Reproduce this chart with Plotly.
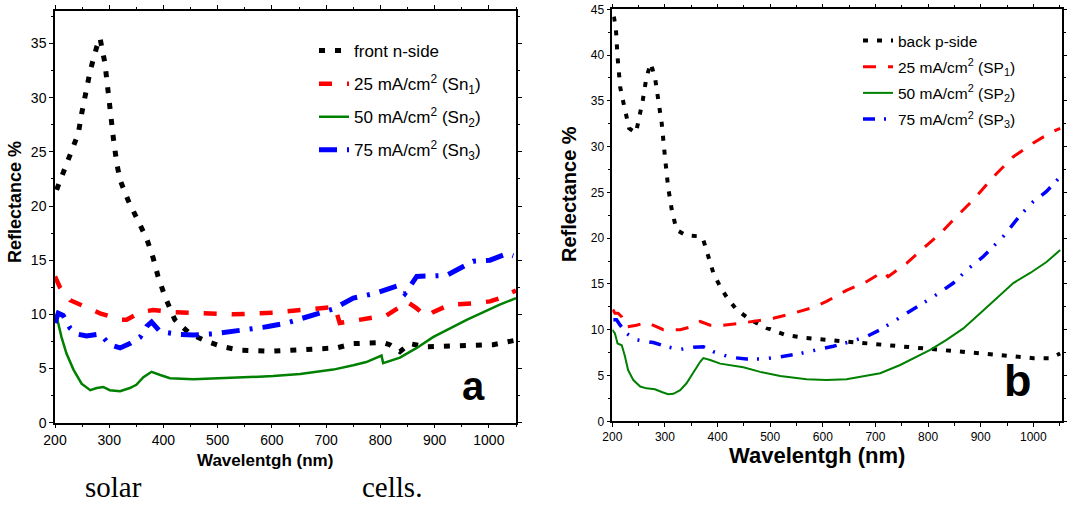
import plotly.graph_objects as go

# ---------------- Panel a data (front n-side) ----------------
a_black_x = [203, 215, 228, 243, 249, 257, 265, 277, 283, 292, 298, 308, 314, 320, 335, 350, 369, 381, 390, 403, 421, 449, 480, 510, 541, 599, 658, 719, 750, 805, 817, 836, 854, 885, 946, 1008, 1048]
a_black_y = [21.5, 23.0, 24.9, 26.7, 28.5, 30.4, 32.5, 34.7, 35.5, 33.2, 30.1, 26.1, 23.9, 22.4, 20.5, 19.0, 17.0, 15.2, 13.5, 11.6, 9.5, 8.2, 7.5, 7.0, 6.7, 6.6, 6.7, 6.9, 7.3, 7.4, 7.2, 6.55, 7.3, 7.0, 7.1, 7.2, 7.6]

a_red_x = [200, 209, 228, 258, 283, 320, 332, 357, 381, 418, 467, 529, 602, 652, 701, 716, 725, 781, 811, 836, 848, 867, 885, 897, 928, 971, 1002, 1020, 1050]
a_red_y = [13.5, 12.5, 11.3, 10.7, 10.1, 9.5, 9.5, 10.2, 10.4, 10.2, 10.1, 10.0, 10.15, 10.4, 10.6, 10.7, 9.2, 9.6, 9.9, 10.7, 11.2, 10.55, 9.8, 10.2, 10.9, 11.0, 11.2, 11.5, 12.2]

a_green_x = [203, 212, 221, 234, 249, 265, 277, 289, 301, 320, 338, 350, 363, 378, 394, 412, 455, 529, 602, 652, 713, 750, 774, 802, 805, 836, 867, 897, 928, 959, 990, 1020, 1050]
a_green_y = [9.8, 7.9, 6.4, 4.9, 3.6, 3.0, 3.2, 3.3, 3.0, 2.9, 3.2, 3.5, 4.2, 4.7, 4.4, 4.1, 4.0, 4.15, 4.3, 4.5, 4.9, 5.3, 5.6, 6.2, 5.5, 6.0, 6.9, 7.9, 8.7, 9.5, 10.2, 10.9, 11.5]

a_blue_x = [200, 206, 215, 228, 240, 258, 283, 301, 320, 338, 357, 369, 378, 394, 430, 455, 492, 541, 590, 627, 676, 713, 750, 787, 830, 845, 867, 897, 922, 971, 1002, 1033, 1045]
a_blue_y = [9.2, 10.1, 9.9, 8.7, 8.2, 8.0, 8.2, 7.2, 6.9, 7.3, 7.9, 8.9, 9.3, 8.4, 8.15, 8.1, 8.2, 8.5, 8.85, 9.2, 10.0, 10.5, 11.5, 11.9, 12.6, 11.9, 13.5, 13.6, 13.6, 14.9, 15.0, 15.6, 15.4]

# ---------------- Panel b data (back p-side) ----------------
b_black_x = [203, 207, 210, 215, 220, 226, 232, 245, 251, 258, 265, 273, 281, 287, 294, 300, 306, 313, 322, 341, 367, 373, 382, 392, 405, 417, 436, 462, 493, 531, 569, 607, 645, 696, 747, 791, 835, 886, 949, 1000, 1032, 1051]
b_black_y = [44.2, 42.7, 39.8, 36.5, 35.1, 33.6, 32.0, 31.5, 33.1, 35.1, 37.6, 39.1, 37.6, 35.5, 32.5, 28.9, 25.6, 23.1, 20.9, 20.3, 20.2, 19.8, 18.0, 16.2, 14.7, 13.6, 12.2, 11.1, 10.2, 9.4, 9.1, 8.9, 8.7, 8.45, 8.15, 8.0, 7.7, 7.4, 7.1, 6.9, 6.9, 7.4]

b_red_x = [201, 205, 211, 218, 227, 246, 265, 278, 297, 310, 329, 348, 367, 386, 411, 443, 481, 506, 544, 582, 607, 645, 683, 715, 724, 759, 791, 823, 848, 886, 924, 962, 1000, 1032, 1051]
b_red_y = [12.2, 11.8, 11.8, 11.4, 10.3, 10.5, 10.8, 10.5, 10.0, 10.0, 10.0, 10.3, 10.9, 10.5, 10.5, 10.7, 11.0, 11.25, 11.8, 12.45, 13.1, 14.3, 15.25, 16.35, 15.8, 17.25, 18.9, 20.5, 22.0, 24.2, 26.7, 28.9, 30.4, 31.5, 32.0]

b_green_x = [200, 205, 210, 218, 224, 230, 240, 253, 265, 281, 294, 306, 316, 329, 341, 354, 367, 373, 386, 405, 424, 449, 481, 519, 569, 607, 645, 677, 690, 709, 747, 785, 804, 835, 867, 899, 937, 962, 994, 1025, 1051]
b_green_y = [10.0, 9.6, 8.5, 8.3, 7.1, 5.6, 4.5, 3.8, 3.6, 3.5, 3.2, 2.95, 3.0, 3.4, 4.15, 5.4, 6.5, 6.9, 6.7, 6.3, 6.15, 5.9, 5.4, 4.95, 4.6, 4.5, 4.6, 4.9, 5.1, 5.25, 6.15, 7.25, 7.8, 8.9, 10.15, 11.8, 13.8, 15.1, 16.2, 17.4, 18.7]

b_blue_x = [202, 208, 215, 227, 246, 265, 278, 303, 329, 354, 373, 392, 424, 455, 487, 519, 557, 588, 620, 652, 683, 709, 734, 759, 785, 810, 848, 873, 905, 943, 975, 1000, 1025, 1051]
b_blue_y = [11.1, 11.1, 10.5, 9.6, 8.9, 8.7, 8.6, 8.15, 7.85, 8.1, 8.15, 7.6, 7.0, 6.8, 6.8, 7.05, 7.4, 7.8, 8.2, 8.7, 9.25, 10.0, 10.9, 11.8, 12.7, 13.6, 15.1, 16.5, 18.0, 20.2, 22.5, 24.0, 25.1, 26.7]

a_names = ["front n-side", "25 mA/cm<sup>2</sup> (Sn<sub>1</sub>)",
           "50 mA/cm<sup>2</sup> (Sn<sub>2</sub>)", "75 mA/cm<sup>2</sup> (Sn<sub>3</sub>)"]
b_names = ["back p-side", "25 mA/cm<sup>2</sup> (SP<sub>1</sub>)",
           "50 mA/cm<sup>2</sup> (SP<sub>2</sub>)", "75 mA/cm<sup>2</sup> (SP<sub>3</sub>)"]

x_ticks = [200, 300, 400, 500, 600, 700, 800, 900, 1000]

W, H = 1086, 506
def px(x):
    return x / W
def py(y):
    return 1 - y / H

SANS = "Liberation Sans, Arial"

fig = go.Figure()

a_styles = [("black", 5, "6px,10px"), ("#ff0000", 4.5, "13px,15px"),
            ("#008000", 2.5, "solid"), ("#0000ff", 5, "18px,10px,3px,10px")]
b_styles = [("black", 4, "5px,9px"), ("#ff0000", 3, "13px,12px"),
            ("#008000", 2, "solid"), ("#0000ff", 3.5, "12px,9px,2px,10px,2px,10px")]

for i, ((xs, ys), name, (c, w, d)) in enumerate(zip(
        [(a_black_x, a_black_y), (a_red_x, a_red_y), (a_green_x, a_green_y), (a_blue_x, a_blue_y)],
        a_names, a_styles)):
    fig.add_trace(go.Scatter(x=xs, y=ys, name=name, mode="lines",
                             line=dict(color=c, width=w, dash=d), legendgroup=f"a{i}",
                             xaxis="x", yaxis="y", legend="legend"))

for i, ((xs, ys), name, (c, w, d)) in enumerate(zip(
        [(b_black_x, b_black_y), (b_red_x, b_red_y), (b_green_x, b_green_y), (b_blue_x, b_blue_y)],
        b_names, b_styles)):
    fig.add_trace(go.Scatter(x=xs, y=ys, name=name, mode="lines",
                             line=dict(color=c, width=w, dash=d), legendgroup=f"b{i}",
                             xaxis="x2", yaxis="y2", legend="legend2"))

axis_common = dict(showgrid=False, zeroline=False, showline=True, linecolor="black",
                   linewidth=1.5, mirror="ticks", ticks="outside", tickcolor="black",
                   ticklen=4, tickwidth=1.2, automargin=False)

fig.update_layout(
    width=W, height=H,
    margin=dict(l=0, r=0, t=0, b=0, autoexpand=False),
    paper_bgcolor="white", plot_bgcolor="white",
    xaxis=dict(domain=[px(55), px(516)], range=[200, 1050], tickvals=x_ticks,
               anchor="y", tickfont=dict(family=SANS, size=14, color="black"),
               minor=dict(dtick=50, ticks="outside", ticklen=2.5, tickcolor="black"),
               **axis_common),
    yaxis=dict(domain=[py(422.7), py(11)], range=[0, 38], dtick=5,
               anchor="x", tickfont=dict(family=SANS, size=14, color="black"),
               minor=dict(dtick=2.5, ticks="outside", ticklen=2.5, tickcolor="black"),
               **axis_common),
    xaxis2=dict(domain=[px(612.3), px(1061.5)], range=[200, 1053.5], tickvals=x_ticks,
                anchor="y2", tickfont=dict(family=SANS, size=12, color="black"),
                minor=dict(dtick=50, ticks="outside", ticklen=2.5, tickcolor="black"),
                **axis_common),
    yaxis2=dict(domain=[py(421.3), py(9.3)], range=[0, 45], dtick=5,
                anchor="x2", tickfont=dict(family=SANS, size=12, color="black"),
                minor=dict(dtick=2.5, ticks="outside", ticklen=2.5, tickcolor="black"),
                **axis_common),
    legend=dict(x=px(314), y=py(33), xanchor="left", yanchor="top",
                font=dict(family=SANS, size=17, color="black"),
                bgcolor="rgba(0,0,0,0)", tracegroupgap=8, itemwidth=30),
    legend2=dict(x=px(858), y=py(24), xanchor="left", yanchor="top",
                 font=dict(family=SANS, size=15.5, color="black"),
                 bgcolor="rgba(0,0,0,0)", tracegroupgap=3, itemwidth=30),
    showlegend=True,
)

annotations = [
    dict(text="<b>Reflectance %</b>", x=px(15), y=py(202), textangle=-90,
         font=dict(family=SANS, size=18, color="black")),
    dict(text="<b>Wavelentgh (nm)</b>", x=px(265), y=py(460),
         font=dict(family=SANS, size=17, color="black")),
    dict(text="<b>Reflectance %</b>", x=px(569), y=py(194), textangle=-90,
         font=dict(family=SANS, size=20, color="black")),
    dict(text="<b>Wavelentgh (nm)</b>", x=px(817), y=py(455),
         font=dict(family=SANS, size=22, color="black")),
    dict(text="<b>a</b>", x=px(473), y=py(386),
         font=dict(family=SANS, size=40, color="black")),
    dict(text="<b>b</b>", x=px(1018), y=py(380),
         font=dict(family=SANS, size=45, color="black")),
    dict(text="solar", x=px(113), y=py(487),
         font=dict(family="Liberation Serif, Times New Roman", size=29, color="black")),
    dict(text="cells.", x=px(392), y=py(487),
         font=dict(family="Liberation Serif, Times New Roman", size=29, color="black")),
]
for a in annotations:
    a.update(xref="paper", yref="paper", showarrow=False, xanchor="center", yanchor="middle")
fig.update_layout(annotations=annotations)

fig.write_html("out.html")
